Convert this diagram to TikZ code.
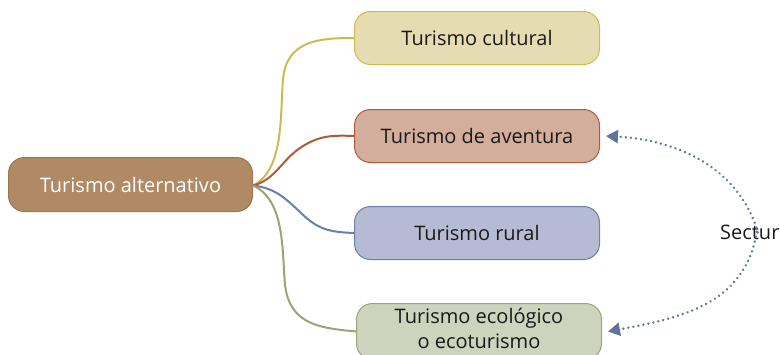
\documentclass[tikz,border=0pt]{standalone}
\usepackage{fontspec}
\setmainfont{Open Sans}
\usetikzlibrary{arrows.meta}
\definecolor{altfill}{HTML}{B08A64}
\definecolor{altdraw}{HTML}{A0744C}
\definecolor{culfill}{HTML}{E6DCB2}
\definecolor{culdraw}{HTML}{D0BA50}
\definecolor{avefill}{HTML}{D4AE9C}
\definecolor{avedraw}{HTML}{B05A3C}
\definecolor{rurfill}{HTML}{B5BBD3}
\definecolor{rurdraw}{HTML}{6A80AA}
\definecolor{ecofill}{HTML}{CDD3BD}
\definecolor{ecodraw}{HTML}{98A676}
\definecolor{arr}{HTML}{60749C}
\definecolor{txt}{HTML}{1A1A1A}
\tikzset{
  topic/.style={draw, line width=1pt, rounded corners=16pt, minimum width=245pt, minimum height=53pt, inner sep=0pt, font=\fontsize{20}{24}\selectfont, text=txt, align=center, anchor=north west},
  conn/.style={line width=2pt},
  secarrow/.style={arr, line width=2.6pt, line cap=round, dash pattern=on 0.1pt off 5pt, -{Triangle[length=12pt,width=13pt]}}
}
\begin{document}
\begin{tikzpicture}[x=1pt,y=-1pt]
\useasboundingbox (0,0) rectangle (780,354);
\node[topic, fill=altfill, draw=altdraw, text=white, minimum width=244pt, minimum height=54pt] (alt) at (8,157) {Turismo alternativo};
\node[topic, fill=culfill, draw=culdraw] (cul) at (354,11) {Turismo cultural};
\node[topic, fill=avefill, draw=avedraw] (ave) at (354,109) {Turismo de aventura};
\node[topic, fill=rurfill, draw=rurdraw] (rur) at (354,206) {Turismo rural};
\node[topic, fill=ecofill, draw=ecodraw, minimum height=56pt] (eco) at (356,303) {};
\node[font=\fontsize{20}{25}\selectfont, text=txt, align=center, inner sep=0pt] (ecot) at ([yshift=3pt]eco.center) {Turismo ecológico\\o ecoturismo};
\node[font=\fontsize{20}{24}\selectfont, text=txt, anchor=west, inner sep=0pt] (sec) at (720,232) {Sectur};
\coordinate (o) at ([yshift=-1pt]alt.east);
\draw[conn, culdraw] (o) .. controls (285,170) and (280,110) .. (283,80) .. controls (286,40) and (320,38) .. (cul.west);
\draw[conn, avedraw] (o) .. controls (275,180) and (282,160) .. (300,148) .. controls (318,136) and (330,135) .. (ave.west);
\draw[conn, rurdraw] (o) .. controls (275,188) and (285,198) .. (300,212) .. controls (318,230) and (330,232) .. (rur.west);
\draw[conn, ecodraw] (o) .. controls (285,200) and (282,250) .. (285,285) .. controls (290,325) and (320,328) .. (eco.west);
\draw[secarrow] ([xshift=8pt,yshift=-8pt]sec.north) .. controls (740,170) and (680,140) .. ([xshift=6pt]ave.east);
\draw[secarrow] ([xshift=7pt,yshift=8pt]sec.south) .. controls (745,305) and (680,318) .. ([xshift=6pt]eco.east);
\end{tikzpicture}
\end{document}
